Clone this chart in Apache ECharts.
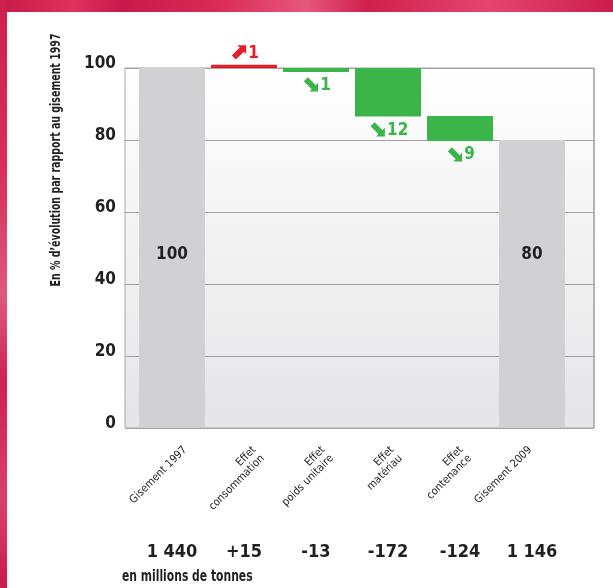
<!DOCTYPE html>
<html>
<head>
<meta charset="utf-8">
<script src="https://cdn.jsdelivr.net/npm/echarts@6/dist/echarts.min.js"></script>
<style>
html,body{margin:0;padding:0;background:#fff;}
#c{width:613px;height:588px;}
</style>
</head>
<body>
<div id="c"></div>
<script>
const categories = ['Gisement 1997', 'Effet\nconsommation', 'Effet\npoids unitaire', 'Effet\nmatériau', 'Effet\ncontenance', 'Gisement 2009'];
const barBottom = [0, 100, 98.9, 86.5, 79.7, 0];
const barTop = [100, 100.9, 100, 100, 86.7, 80];
const valueLabels = ['100', '1', '1', '12', '9', '80'];
const tonnages = ['1 440', '+15', '-13', '-172', '-124', '1 146'];
const yAxisTitle = 'En % d\u2019évolution par rapport au gisement 1997';
const unitNote = 'en millions de tonnes';

const FONT = '"Liberation Sans Narrow", "DejaVu Sans Condensed", "DejaVu Sans", sans-serif';
const DARK = '#231f20';
const RED = '#e41f26';
const GREEN = '#3bb54a';
const GRAY = '#d1d1d3';

const kinds = ['base', 'up', 'down', 'down', 'down', 'base'];

const visibleData = barTop.map((t, i) => {
  const k = kinds[i];
  const item = { value: t - barBottom[i] };
  if (k === 'base') {
    item.itemStyle = { color: GRAY };
    item.label = { show: true, position: 'insideBottom', distance: 165, color: DARK, fontSize: 17, fontWeight: 'bold', fontFamily: FONT, formatter: valueLabels[i] };
  } else {
    const col = k === 'up' ? RED : GREEN;
    const arrow = k === 'up' ? '\u2B08' : '\u2B0A';
    item.itemStyle = { color: col };
    item.label = {
      show: true, position: k === 'up' ? 'top' : 'bottom', distance: k === 'up' ? 0 : 2,
      color: col, fontSize: 17, fontWeight: 'bold', fontFamily: FONT,
      formatter: '{a|' + arrow + '}{b|' + valueLabels[i] + '}',
      rich: {
        a: { fontSize: 23, fontWeight: 'bold', color: col, fontFamily: '"DejaVu Sans", sans-serif', padding: [0, 0, 0, 0] },
        b: { fontSize: 17, fontWeight: 'bold', color: col, fontFamily: FONT }
      }
    };
  }
  return item;
});

const chart = echarts.init(document.getElementById('c'), null, { renderer: 'canvas' });

const stripe = {
  type: 'linear', x: 0, y: 0, x2: 1, y2: 0,
  colorStops: [
    { offset: 0, color: '#c81a47' }, { offset: 0.12, color: '#e0305e' },
    { offset: 0.2, color: '#c9194a' }, { offset: 0.35, color: '#d92a56' },
    { offset: 0.5, color: '#e6577c' }, { offset: 0.6, color: '#cf1f4d' },
    { offset: 0.8, color: '#e4466f' }, { offset: 1, color: '#cc1c4b' }
  ]
};
const stripeV = {
  type: 'linear', x: 0, y: 0, x2: 0, y2: 1,
  colorStops: [
    { offset: 0, color: '#cf1f4d' }, { offset: 0.3, color: '#d8305a' },
    { offset: 0.5, color: '#e05a7c' }, { offset: 0.65, color: '#cf2150' },
    { offset: 0.85, color: '#dc4068' }, { offset: 1, color: '#c91b4a' }
  ]
};

const option = {
  animation: false,
  backgroundColor: '#ffffff',
  textStyle: { fontFamily: FONT },
  graphic: [
    { type: 'rect', shape: { x: 0, y: 0, width: 613, height: 12 }, style: { fill: stripe }, silent: true },
    { type: 'rect', shape: { x: 0, y: 0, width: 7, height: 588 }, style: { fill: stripeV }, silent: true },
    { type: 'line', shape: { x1: 594, y1: 68, x2: 594, y2: 428 }, style: { stroke: '#b4b4b4', lineWidth: 2 }, silent: true },
    {
      type: 'text', x: 56, y: 160, rotation: Math.PI / 2, scaleX: 0.75,
      style: { text: yAxisTitle, fill: DARK, font: 'bold 14px ' + FONT, textAlign: 'center', textVerticalAlign: 'middle' }
    },
    {
      type: 'text', x: 122, y: 577, scaleX: 0.8,
      style: { text: unitNote, fill: DARK, font: 'bold 15px ' + FONT, textAlign: 'left', textVerticalAlign: 'middle' }
    }
  ],
  grid: [
    {
      left: 125, top: 68, width: 469, height: 360, show: true,
      backgroundColor: { type: 'linear', x: 0, y: 0, x2: 0, y2: 1, colorStops: [{ offset: 0, color: '#ffffff' }, { offset: 1, color: '#e5e5e7' }] },
      borderColor: '#a6a6a6', borderWidth: 1
    },
    { left: 136, top: 68, width: 432, height: 360 },
    { left: 146.5, top: 68, width: 414, height: 360 }
  ],
  xAxis: [
    { gridIndex: 0, type: 'category', data: categories, show: false },
    { gridIndex: 1, type: 'category', data: categories, axisLine: { show: false }, axisTick: { show: false }, axisLabel: { show: false } },
    {
      gridIndex: 1, type: 'category', data: tonnages, position: 'bottom', offset: 107,
      axisLine: { show: false }, axisTick: { show: false },
      axisLabel: { color: DARK, fontSize: 18, fontWeight: 'bold', fontFamily: FONT, margin: 8 }
    },
    {
      gridIndex: 2, type: 'category', data: categories, position: 'bottom',
      axisLine: { show: false }, axisTick: { show: false },
      axisLabel: { rotate: 45, color: DARK, fontSize: 11, lineHeight: 12, fontFamily: FONT, margin: 16, interval: 0, verticalAlign: 'top' }
    }
  ],
  yAxis: [
    {
      gridIndex: 0, type: 'value', min: 0, max: 100, interval: 20,
      axisLine: { show: false }, axisTick: { show: false },
      splitLine: { lineStyle: { color: '#a2a2a2', width: 1 } },
      axisLabel: { color: DARK, fontSize: 17, fontWeight: 'bold', fontFamily: FONT, margin: 9, verticalAlign: 'bottom', lineHeight: 9 }
    },
    { gridIndex: 1, type: 'value', min: 0, max: 100, interval: 20, show: false },
    { gridIndex: 2, type: 'value', min: 0, max: 100, interval: 20, show: false }
  ],
  series: [
    {
      type: 'bar', xAxisIndex: 1, yAxisIndex: 1, stack: 'w', barWidth: 66, clip: false,
      data: barBottom, itemStyle: { color: 'rgba(0,0,0,0)' }, silent: true
    },
    {
      type: 'bar', xAxisIndex: 1, yAxisIndex: 1, stack: 'w', barWidth: 66, clip: false,
      data: visibleData
    }
  ]
};
chart.setOption(option);
</script>
</body>
</html>
